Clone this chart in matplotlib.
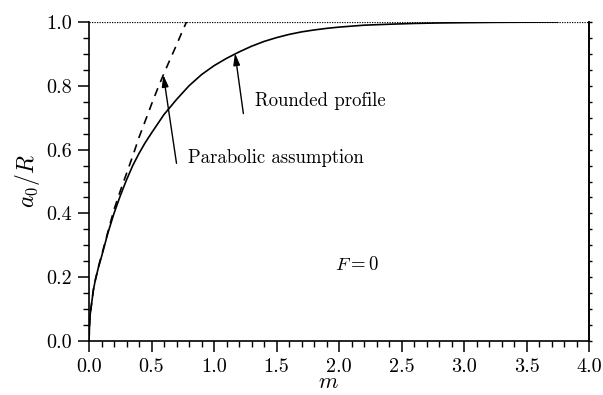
import numpy as np
import matplotlib
matplotlib.use("Agg")
import matplotlib.pyplot as plt
from matplotlib.ticker import MultipleLocator, FormatStrFormatter, NullFormatter

plt.rcParams["font.family"] = "serif"
plt.rcParams["font.serif"] = ["cmr10", "DejaVu Serif"]
plt.rcParams["mathtext.fontset"] = "cm"
plt.rcParams["axes.formatter.use_mathtext"] = True

# rounded profile (solid)
m_round = [0.0, 0.005, 0.01, 0.02, 0.035, 0.05, 0.075, 0.1, 0.15, 0.2, 0.25,
           0.3, 0.35, 0.4, 0.45, 0.5, 0.6, 0.7, 0.8, 0.9, 1.0, 1.1, 1.2, 1.3,
           1.4, 1.5, 1.6, 1.7, 1.8, 1.9, 2.0, 2.2, 2.4, 2.6, 2.8, 3.0, 3.25,
           3.5, 3.75]
a_round = [0.0, 0.055, 0.085, 0.115, 0.16, 0.19, 0.23, 0.264, 0.337, 0.40,
           0.455, 0.505, 0.55, 0.588, 0.622, 0.652, 0.71, 0.757, 0.80, 0.835,
           0.863, 0.886, 0.906, 0.924, 0.939, 0.951, 0.961, 0.969, 0.975,
           0.980, 0.984, 0.990, 0.993, 0.9955, 0.997, 0.998, 0.999, 0.9995,
           1.0]

# parabolic assumption (dashed)
m_para = [0.0, 0.005, 0.01, 0.02, 0.035, 0.05, 0.075, 0.1, 0.15, 0.2, 0.25,
          0.3, 0.35, 0.4, 0.45, 0.5, 0.55, 0.6, 0.65, 0.7, 0.75, 0.78]
a_para = [0.0, 0.055, 0.085, 0.115, 0.16, 0.19, 0.232, 0.268, 0.34, 0.412,
          0.47, 0.525, 0.58, 0.638, 0.69, 0.742, 0.792, 0.839, 0.884, 0.928,
          0.974, 1.0]

fig = plt.figure(figsize=(6.03, 3.95), dpi=100)
ax = fig.add_axes([0.1476, 0.1367, 0.8292, 0.8076])

ax.axhline(1.0, color="k", lw=0.9, ls=(0, (1, 1)), zorder=1)
ax.plot(m_round, a_round, color="k", lw=1.2, zorder=3)
ax.plot(m_para, a_para, color="k", lw=1.2, ls=(0, (5, 4)), zorder=3)

arrow = dict(arrowstyle="-|>,head_length=0.7,head_width=0.2", color="k",
             lw=1.0, shrinkA=0, shrinkB=0)
ax.annotate("", xy=(1.168, 0.902), xytext=(1.235, 0.713), arrowprops=arrow)
ax.annotate("", xy=(0.595, 0.834), xytext=(0.70, 0.557), arrowprops=arrow)
ax.text(1.33, 0.752, "Rounded profile", fontsize=13.5, va="center")
ax.text(0.79, 0.574, "Parabolic assumption", fontsize=13.5, va="center")
ax.text(1.97, 0.238, r"$F = 0$", fontsize=13.5, va="center")

ax.set_xlim(0, 4)
ax.set_ylim(0, 1)
ax.xaxis.set_major_locator(MultipleLocator(0.5))
ax.xaxis.set_minor_locator(MultipleLocator(0.1))
ax.yaxis.set_major_locator(MultipleLocator(0.2))
ax.yaxis.set_minor_locator(MultipleLocator(0.05))
ax.xaxis.set_major_formatter(FormatStrFormatter("%.1f"))
ax.yaxis.set_major_formatter(FormatStrFormatter("%.1f"))

ax.spines["top"].set_visible(False)
for s in ["left", "bottom", "right"]:
    ax.spines[s].set_linewidth(1.2)
ax.tick_params(which="major", direction="out", length=8, width=1.1,
               labelsize=14.5, pad=4)
ax.tick_params(which="minor", direction="out", length=4.5, width=1.0)

# small ticks on the right spine
sec = ax.secondary_yaxis("right")
sec.yaxis.set_major_locator(MultipleLocator(0.05))
sec.yaxis.set_major_formatter(NullFormatter())
sec.tick_params(direction="out", length=2.5, width=1.0)
sec.spines["right"].set_linewidth(1.2)

ax.set_xlabel(r"$m$", fontsize=16)
ax.xaxis.set_label_coords(0.478, -0.1)
ax.set_ylabel(r"$a_0/R$", fontsize=17)
ax.yaxis.set_label_coords(-0.094, 0.5)

fig.savefig("out.png", dpi=100)
